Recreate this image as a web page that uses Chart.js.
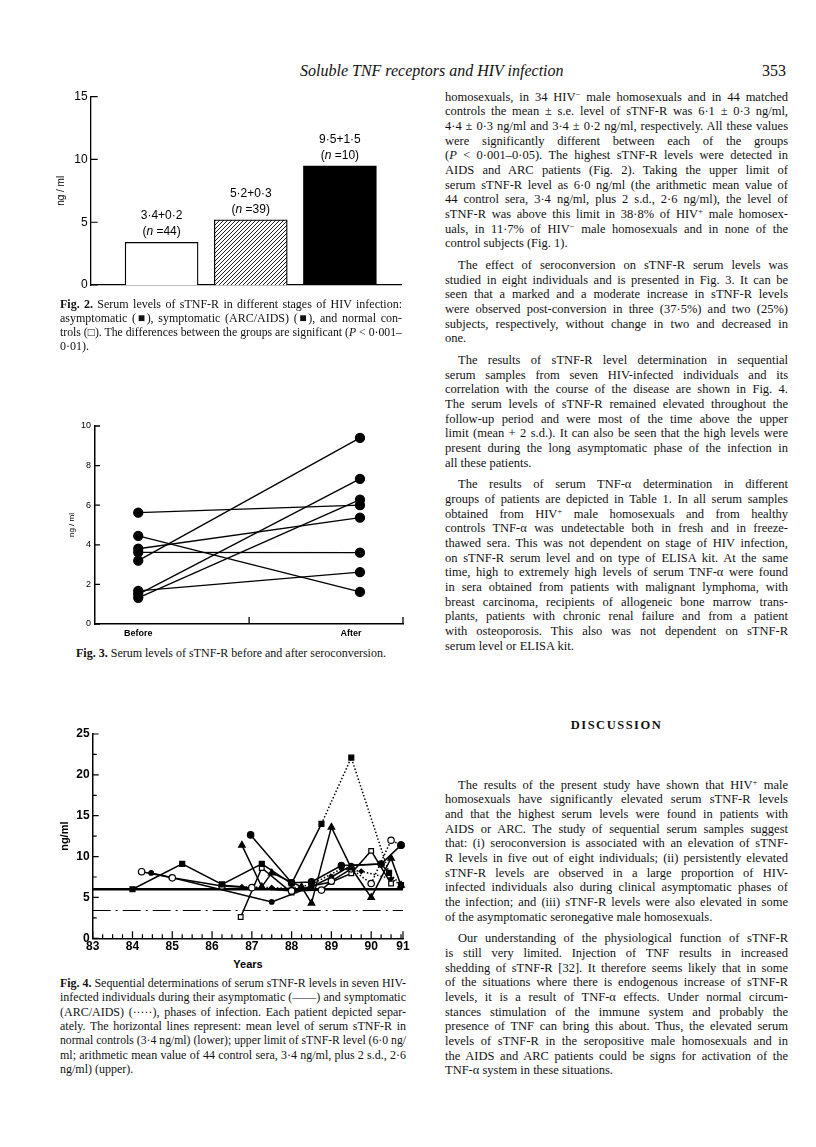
<!DOCTYPE html>
<html>
<head>
<meta charset="utf-8">
<script src="https://cdn.jsdelivr.net/npm/chart.js@4.4.0/dist/chart.umd.min.js"></script>
<style>
  body { margin: 0; width: 816px; height: 1147px; position: relative; background: #fff; overflow: hidden; }
  canvas { position: absolute; }
  .ln { position: absolute; white-space: nowrap; font-family: "Liberation Serif", "DejaVu Serif", serif; color: #111; }
  .ln sup { font-size: 0.7em; line-height: 0; vertical-align: 0.45em; }
  .hdr { position: absolute; font-family: "Liberation Serif", serif; font-size: 16px; color: #111; white-space: nowrap; }
  .years { position: absolute; font-family: "Liberation Sans", Arial, sans-serif; font-weight: bold; font-size: 11px; }
</style>
</head>
<body>
<div class="hdr" style="left:300px; top:62px; width:260px; text-align:right; font-style:italic;">Soluble TNF receptors and HIV infection</div>
<div class="hdr" style="left:762px; top:62px;">353</div>

<canvas id="fig2" width="420" height="230" style="left:0; top:80px; width:420px; height:230px;"></canvas>
<canvas id="fig3" width="420" height="240" style="left:0; top:405px; width:420px; height:240px;"></canvas>
<canvas id="fig4" width="420" height="245" style="left:0; top:710px; width:420px; height:245px;"></canvas>
<div class="years" style="left:218px; top:958px; width:60px; text-align:center;">Years</div>

<script>
// Fig. 2 - group means
const fig2Groups = ['Normal controls', 'Asymptomatic', 'Symptomatic (ARC/AIDS)'];
const fig2Means = [3.4, 5.2, 9.5];
const fig2SE = [0.2, 0.3, 1.5];
const fig2N = [44, 39, 10];
const fig2Ticks = [0, 5, 10, 15];

// Fig. 3 - before / after seroconversion (8 individuals)
const fig3Labels = ['Before', 'After'];
const fig3Before = [5.62, 4.45, 3.8, 3.62, 3.2, 1.5, 1.32, 1.67];
const fig3After = [6.0, 1.62, 5.37, 3.6, 9.4, 7.33, 6.28, 2.62];
const fig3Ticks = [0, 2, 4, 6, 8, 10];

// Fig. 4 - sequential determinations, seven patients
const p1Years = [84.0, 85.25, 86.25, 87.25, 88.0, 88.75, 89.5, 90.45, 90.75];
const p1Values = [6.0, 9.1, 6.6, 9.1, 6.7, 14.0, 22.1, 8.0, 6.5];
const p2Years = [86.75, 87.25, 87.5, 88.25, 88.5, 89.0, 89.5, 90.0, 90.5, 90.75];
const p2Values = [11.4, 6.3, 8.0, 6.3, 4.3, 13.6, 8.6, 5.0, 9.8, 6.5];
const p3Years = [86.97, 88.0, 88.5, 89.25, 90.25, 90.75];
const p3Values = [12.65, 6.8, 6.9, 8.9, 9.1, 11.4];
const p4Years = [84.23, 85.0, 86.25, 87.0, 88.0, 88.75, 89.0, 89.5, 90.0, 90.5, 90.75];
const p4Values = [8.15, 7.4, 6.4, 6.2, 5.8, 5.9, 7.0, 8.5, 6.7, 12.0, 11.4];
const p5Years = [84.47, 84.98, 87.5, 88.5, 89.0, 89.5, 90.25, 90.45];
const p5Values = [8.0, 7.45, 4.45, 6.3, 7.5, 8.9, 9.1, 8.0];
const p6Years = [86.72, 87.25, 88.0, 88.5, 89.0, 89.5, 90.0, 90.5];
const p6Values = [2.6, 8.6, 5.6, 6.4, 6.9, 7.95, 10.7, 6.7];
const p7Years = [86.25, 86.75, 87.5, 88.0, 88.5, 89.25, 89.75, 90.5, 90.75];
const p7Values = [6.5, 6.3, 6.2, 6.1, 6.6, 8.5, 8.2, 7.3, 6.5];
const upperLimit = 6.0;
const controlMean = 3.4;
const fig4YearTicks = [83, 84, 85, 86, 87, 88, 89, 90, 90.8];
const fig4YearLabels = ['83', '84', '85', '86', '87', '88', '89', '90', '91'];
const fig4ValueTicks = [0, 5, 10, 15, 20, 25];

// ---------- plugins ----------
const innerTicks = {
  id: 'innerTicks',
  afterDraw(chart, args, opts) {
    const { ctx, chartArea, scales } = chart;
    ctx.save();
    ctx.strokeStyle = '#000';
    ctx.lineWidth = opts.width || 1.2;
    ctx.beginPath();
    (opts.x || []).forEach(t => {
      const px = scales.x.getPixelForValue(t.v);
      ctx.moveTo(px, chartArea.bottom);
      ctx.lineTo(px, chartArea.bottom - t.len);
    });
    (opts.y || []).forEach(t => {
      const py = scales.y.getPixelForValue(t.v);
      ctx.moveTo(chartArea.left, py);
      ctx.lineTo(chartArea.left + t.len, py);
    });
    ctx.stroke();
    ctx.restore();
  }
};

const yTitle = {
  id: 'yTitle',
  afterDraw(chart, args, opts) {
    const { ctx, chartArea } = chart;
    ctx.save();
    ctx.translate(chartArea.left - opts.dx, (chartArea.top + chartArea.bottom) / 2);
    ctx.rotate(-Math.PI / 2);
    ctx.font = opts.font;
    ctx.fillStyle = '#000';
    ctx.textAlign = 'center';
    ctx.textBaseline = 'middle';
    ctx.fillText(opts.text, 0, 0);
    ctx.restore();
  }
};

const refLines = {
  id: 'refLines',
  beforeDatasetsDraw(chart) {
    const { ctx, chartArea, scales } = chart;
    ctx.save();
    ctx.strokeStyle = '#000';
    let y = scales.y.getPixelForValue(upperLimit);
    ctx.lineWidth = 2.4;
    ctx.beginPath(); ctx.moveTo(chartArea.left, y); ctx.lineTo(chartArea.right, y); ctx.stroke();
    y = scales.y.getPixelForValue(controlMean);
    ctx.lineWidth = 1.2;
    ctx.setLineDash([18, 5, 2, 5]);
    ctx.beginPath(); ctx.moveTo(chartArea.left, y); ctx.lineTo(chartArea.right, y); ctx.stroke();
    ctx.restore();
  }
};

const barLabels = {
  id: 'barLabels',
  afterDatasetsDraw(chart) {
    const { ctx } = chart;
    const meta = chart.getDatasetMeta(0);
    ctx.save();
    ctx.fillStyle = '#000';
    ctx.textBaseline = 'middle';
    meta.data.forEach((bar, i) => {
      const fnt = '12px "Liberation Sans", Arial, sans-serif';
      ctx.font = fnt;
      ctx.textAlign = 'center';
      ctx.fillText(String(fig2Means[i]).replace('.', '·') + '+' + String(fig2SE[i]).replace('.', '·'), bar.x, bar.y - 26.5);
      const parts = [['(', fnt], ['n', 'italic ' + fnt], [' =' + fig2N[i] + ')', fnt]];
      let total = 0;
      parts.forEach(p => { ctx.font = p[1]; total += ctx.measureText(p[0]).width; });
      let x = bar.x - total / 2;
      ctx.textAlign = 'left';
      parts.forEach(p => { ctx.font = p[1]; ctx.fillText(p[0], x, bar.y - 10.5); x += ctx.measureText(p[0]).width; });
    });
    ctx.restore();
  }
};

// ---------- Fig. 2 ----------
const hatchCanvas = document.createElement('canvas');
hatchCanvas.width = 4; hatchCanvas.height = 4;
const hc = hatchCanvas.getContext('2d');
hc.fillStyle = '#fff'; hc.fillRect(0, 0, 4, 4);
hc.strokeStyle = '#000'; hc.lineWidth = 0.9;
hc.beginPath(); hc.moveTo(-1, 5); hc.lineTo(5, -1); hc.moveTo(-1, 1); hc.lineTo(1, -1); hc.moveTo(3, 5); hc.lineTo(5, 3); hc.stroke();
const hatch = document.getElementById('fig2').getContext('2d').createPattern(hatchCanvas, 'repeat');

new Chart(document.getElementById('fig2'), {
  type: 'bar',
  data: {
    labels: fig2Groups,
    datasets: [{
      data: fig2Means.map((m, i) => ({ x: i, y: m })),
      backgroundColor: ['#fff', hatch, '#000'],
      borderColor: '#000',
      borderWidth: 1.3,
      barThickness: 73,
      borderSkipped: 'bottom'
    }]
  },
  options: {
    responsive: false,
    animation: false,
    layout: { padding: { left: 0, top: 16.7, right: 19, bottom: 25 } },
    plugins: {
      legend: { display: false },
      tooltip: { enabled: false },
      innerTicks: { width: 1.2, y: fig2Ticks.map(v => ({ v: v, len: 7 })) },
      yTitle: { text: 'ng / ml', dx: 29, font: '10px "Liberation Sans", Arial, sans-serif' }
    },
    scales: {
      x: {
        type: 'linear', min: -0.505, max: 2.395,
        grid: { display: false }, ticks: { display: false },
        border: { color: '#000', width: 1.3 },
        afterFit: s => { s.height = 0; }
      },
      y: {
        min: 0, max: 15,
        afterBuildTicks: s => { s.ticks = fig2Ticks.map(v => ({ value: v })); },
        ticks: { padding: 3, color: '#000', font: { family: 'Liberation Sans', size: 12 } },
        grid: { display: false, drawTicks: false },
        border: { color: '#000', width: 1.3 },
        afterFit: s => { s.width = 90.7; }
      }
    }
  },
  plugins: [innerTicks, yTitle, barLabels]
});

// ---------- Fig. 3 ----------
new Chart(document.getElementById('fig3'), {
  type: 'line',
  data: {
    datasets: fig3Before.map((b, i) => ({
      data: [{ x: 0, y: b }, { x: 1, y: fig3After[i] }],
      borderColor: '#000', borderWidth: 1.3,
      pointRadius: 4.5, pointBackgroundColor: '#000', pointBorderColor: '#000',
      clip: false
    }))
  },
  options: {
    responsive: false,
    animation: false,
    layout: { padding: { left: 0, top: 21, right: 17, bottom: 0 } },
    plugins: {
      legend: { display: false },
      tooltip: { enabled: false },
      innerTicks: { width: 1.3, y: fig3Ticks.map(v => ({ v: v, len: 5 })), x: [{ v: 0.5, len: 7 }, { v: 1.194, len: 7 }] },
      yTitle: { text: 'ng / ml', dx: 23.3, font: '8px "Liberation Sans", Arial, sans-serif' }
    },
    scales: {
      x: {
        type: 'linear', min: -0.195, max: 1.194,
        afterBuildTicks: s => { s.ticks = [{ value: 0 }, { value: 0.96 }]; },
        ticks: { callback: (v, i) => fig3Labels[i], padding: 4, color: '#000', font: { family: 'Liberation Sans', size: 9, weight: 'bold' } },
        grid: { display: false, drawTicks: false },
        border: { color: '#000', width: 1.5 },
        afterFit: s => { s.height = 21; }
      },
      y: {
        min: 0, max: 10,
        afterBuildTicks: s => { s.ticks = fig3Ticks.map(v => ({ value: v })); },
        ticks: { padding: 4, color: '#000', font: { family: 'Liberation Sans', size: 9 } },
        grid: { display: false, drawTicks: false },
        border: { color: '#000', width: 1.5 },
        afterFit: s => { s.width = 95; }
      }
    }
  },
  plugins: [innerTicks, yTitle]
});

// ---------- Fig. 4 ----------
function patient(years, values, style, filled, radius, dotFrom) {
  return {
    data: years.map((y, i) => ({ x: y, y: values[i] })),
    borderColor: '#000', borderWidth: 1.5, tension: 0,
    pointStyle: style, pointRadius: radius,
    pointBackgroundColor: filled ? '#000' : '#fff', pointBorderColor: '#000', pointBorderWidth: 1.2,
    segment: { borderDash: ctx => ctx.p0DataIndex >= dotFrom ? [1.5, 2] : undefined },
    clip: false
  };
}

const quarterTicks = [];
for (let q = 83; q < 90.8; q += 0.25) quarterTicks.push({ v: q, len: Number.isInteger(q) ? 7 : 4 });
quarterTicks.push({ v: 90.8, len: 7 });
const halfTicks = [];
for (let v = 0; v <= 25; v += 2.5) halfTicks.push({ v: v, len: v % 5 === 0 ? 6 : 4 });

new Chart(document.getElementById('fig4'), {
  type: 'line',
  data: {
    datasets: [
      patient(p1Years, p1Values, 'rect', true, 3.5, 5),
      patient(p2Years, p2Values, 'triangle', true, 3.8, 99),
      patient(p3Years, p3Values, 'circle', true, 3.2, 99),
      patient(p4Years, p4Values, 'circle', false, 3.2, 7),
      patient(p5Years, p5Values, 'circle', true, 2.3, 99),
      patient(p6Years, p6Values, 'rect', false, 3.3, 99),
      patient(p7Years, p7Values, 'rectRot', true, 2.3, 1)
    ]
  },
  options: {
    responsive: false,
    animation: false,
    layout: { padding: { left: 0, top: 24, right: 17, bottom: 0 } },
    plugins: {
      legend: { display: false },
      tooltip: { enabled: false },
      innerTicks: { width: 1.2, x: quarterTicks, y: halfTicks },
      yTitle: { text: 'ng/ml', dx: 27.7, font: 'bold 11px "Liberation Sans", Arial, sans-serif' }
    },
    scales: {
      x: {
        type: 'linear', min: 83, max: 90.8,
        afterBuildTicks: s => { s.ticks = fig4YearTicks.map(v => ({ value: v })); },
        ticks: { callback: (v, i) => fig4YearLabels[i], padding: 1, color: '#000', autoSkip: false, maxRotation: 0, font: { family: 'Liberation Sans', size: 12, weight: 'bold' } },
        grid: { display: false, drawTicks: false },
        border: { color: '#000', width: 1.5 },
        afterFit: s => { s.height = 16.7; }
      },
      y: {
        min: 0, max: 25,
        afterBuildTicks: s => { s.ticks = fig4ValueTicks.map(v => ({ value: v })); },
        ticks: { padding: 3, color: '#000', font: { family: 'Liberation Sans', size: 12, weight: 'bold' } },
        grid: { display: false, drawTicks: false },
        border: { color: '#000', width: 1.5 },
        afterFit: s => { s.width = 92.7; }
      }
    }
  },
  plugins: [refLines, innerTicks, yTitle]
});

// ---------- text ----------
function addLine(html, x, yc, w, lh, size, justify, indent, extra) {
  const d = document.createElement('div');
  d.className = 'ln';
  const ind = indent || 0;
  d.style.left = (x + ind) + 'px';
  d.style.top = (yc - lh / 2) + 'px';
  d.style.width = (w - ind) + 'px';
  d.style.height = lh + 'px';
  d.style.lineHeight = lh + 'px';
  d.style.fontSize = size + 'px';
  if (extra) Object.assign(d.style, extra);
  d.innerHTML = '<span>' + html + '</span>';
  document.body.appendChild(d);
  const avail = w - ind;
  const nat = d.firstChild.getBoundingClientRect().width;
  if (nat > avail) {
    const sp = d.firstChild;
    sp.style.display = 'inline-block';
    sp.style.transformOrigin = '0 50%';
    sp.style.transform = 'scaleX(' + (avail / nat) + ')';
  } else if (justify) {
    d.innerHTML = html;
    d.style.whiteSpace = 'normal';
    d.style.textAlign = 'justify';
    d.style.textAlignLast = 'justify';
  }
}

function addPara(lines, x, y0, w, lh, size, indentFirst) {
  lines.forEach((t, i) => addLine(t, x, y0 + i * lh, w, lh, size, i < lines.length - 1, i === 0 ? indentFirst : 0));
  return y0 + lines.length * lh;
}

const R_X = 445, R_W = 343, R_LH = 14.67, R_SIZE = 12.5, GAP = 7, IND = 13;
const p1Text = [
  'homosexuals, in 34 HIV<sup>−</sup> male homosexuals and in 44 matched',
  'controls the mean ± s.e. level of sTNF-R was 6·1 ± 0·3 ng/ml,',
  '4·4 ± 0·3 ng/ml and 3·4 ± 0·2 ng/ml, respectively. All these values',
  'were significantly different between each of the groups',
  '(<i>P</i> &lt; 0·001–0·05). The highest sTNF-R levels were detected in',
  'AIDS and ARC patients (Fig. 2). Taking the upper limit of',
  'serum sTNF-R level as 6·0 ng/ml (the arithmetic mean value of',
  '44 control sera, 3·4 ng/ml, plus 2 s.d., 2·6 ng/ml), the level of',
  'sTNF-R was above this limit in 38·8% of HIV<sup>+</sup> male homosex-',
  'uals, in 11·7% of HIV<sup>−</sup> male homosexuals and in none of the',
  'control subjects (Fig. 1).'
];
const p2Text = [
  'The effect of seroconversion on sTNF-R serum levels was',
  'studied in eight individuals and is presented in Fig. 3. It can be',
  'seen that a marked and a moderate increase in sTNF-R levels',
  'were observed post-conversion in three (37·5%) and two (25%)',
  'subjects, respectively, without change in two and decreased in',
  'one.'
];
const p3Text = [
  'The results of sTNF-R level determination in sequential',
  'serum samples from seven HIV-infected individuals and its',
  'correlation with the course of the disease are shown in Fig. 4.',
  'The serum levels of sTNF-R remained elevated throughout the',
  'follow-up period and were most of the time above the upper',
  'limit (mean + 2 s.d.). It can also be seen that the high levels were',
  'present during the long asymptomatic phase of the infection in',
  'all these patients.'
];
const p4Text = [
  'The results of serum TNF-α determination in different',
  'groups of patients are depicted in Table 1. In all serum samples',
  'obtained from HIV<sup>+</sup> male homosexuals and from healthy',
  'controls TNF-α was undetectable both in fresh and in freeze-',
  'thawed sera. This was not dependent on stage of HIV infection,',
  'on sTNF-R serum level and on type of ELISA kit. At the same',
  'time, high to extremely high levels of serum TNF-α were found',
  'in sera obtained from patients with malignant lymphoma, with',
  'breast carcinoma, recipients of allogeneic bone marrow trans-',
  'plants, patients with chronic renal failure and from a patient',
  'with osteoporosis. This also was not dependent on sTNF-R',
  'serum level or ELISA kit.'
];
const p5Text = [
  'The results of the present study have shown that HIV<sup>+</sup> male',
  'homosexuals have significantly elevated serum sTNF-R levels',
  'and that the highest serum levels were found in patients with',
  'AIDS or ARC. The study of sequential serum samples suggest',
  'that: (i) seroconversion is associated with an elevation of sTNF-',
  'R levels in five out of eight individuals; (ii) persistently elevated',
  'sTNF-R levels are observed in a large proportion of HIV-',
  'infected individuals also during clinical asymptomatic phases of',
  'the infection; and (iii) sTNF-R levels were also elevated in some',
  'of the asymptomatic seronegative male homosexuals.'
];
const p6Text = [
  'Our understanding of the physiological function of sTNF-R',
  'is still very limited. Injection of TNF results in increased',
  'shedding of sTNF-R [32]. It therefore seems likely that in some',
  'of the situations where there is endogenous increase of sTNF-R',
  'levels, it is a result of TNF-α effects. Under normal circum-',
  'stances stimulation of the immune system and probably the',
  'presence of TNF can bring this about. Thus, the elevated serum',
  'levels of sTNF-R in the seropositive male homosexuals and in',
  'the AIDS and ARC patients could be signs for activation of the',
  'TNF-α system in these situations.'
];

let y = 97;
y = addPara(p1Text, R_X, y, R_W, R_LH, R_SIZE, 0) + GAP;
y = addPara(p2Text, R_X, y, R_W, R_LH, R_SIZE, IND) + GAP;
y = addPara(p3Text, R_X, y, R_W, R_LH, R_SIZE, IND) + GAP;
y = addPara(p4Text, R_X, y, R_W, R_LH, R_SIZE, IND);
addLine('DISCUSSION', R_X, 725, R_W, R_LH, 12.5, false, 0, { textAlign: 'center', letterSpacing: '1.5px', fontWeight: 'bold' });
y = addPara(p5Text, R_X, 785, R_W, R_LH, R_SIZE, IND) + GAP;
addPara(p6Text, R_X, y, R_W, R_LH, R_SIZE, IND);

// captions, left column
const L_X = 60, L_W = 342;
addPara([
  '<b>Fig. 2.</b> Serum levels of sTNF-R in different stages of HIV infection:',
  'asymptomatic (■), symptomatic (ARC/AIDS) (■), and normal con-',
  'trols (□). The differences between the groups are significant (<i>P</i> &lt; 0·001–',
  '0·01).'
], L_X, 305, L_W, 13.9, 12, 0);
addLine('<b>Fig. 3.</b> Serum levels of sTNF-R before and after seroconversion.', L_X, 652.7, L_W, 14, 12, false, 0, { textAlign: 'center' });
addPara([
  '<b>Fig. 4.</b> Sequential determinations of serum sTNF-R levels in seven HIV-',
  'infected individuals during their asymptomatic (——) and symptomatic',
  '(ARC/AIDS) (·····), phases of infection. Each patient depicted separ-',
  'ately. The horizontal lines represent: mean level of serum sTNF-R in',
  'normal controls (3·4 ng/ml) (lower); upper limit of sTNF-R level (6·0 ng/',
  'ml; arithmetic mean value of 44 control sera, 3·4 ng/ml, plus 2 s.d., 2·6',
  'ng/ml) (upper).'
], L_X, 983, 346, 14.4, 12, 0);
</script>
</body>
</html>
